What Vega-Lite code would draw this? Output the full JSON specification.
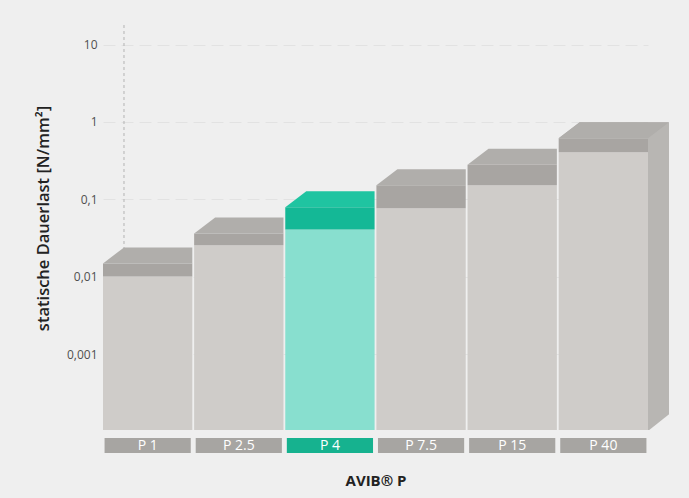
{
  "$schema": "https://vega.github.io/schema/vega-lite/v6.json",
  "width": 545,
  "height": 405,
  "autosize": {"type": "none"},
  "padding": {"left": 103, "top": 25, "right": 41, "bottom": 68},
  "background": "#efefef",
  "config": {"view": {"stroke": null}, "font": "Open Sans"},
  "data": {
    "values": [
      {"name": "P 1", "low": 0.0101, "high": 0.0149},
      {"name": "P 2.5", "low": 0.0255, "high": 0.0364},
      {"name": "P 4", "low": 0.041, "high": 0.079},
      {"name": "P 7.5", "low": 0.0767, "high": 0.152},
      {"name": "P 15", "low": 0.152, "high": 0.28},
      {"name": "P 40", "low": 0.406, "high": 0.617}
    ]
  },
  "layer": [
    {
      "transform": [{"filter": "datum.name === 'P 1'"}],
      "mark": {"type": "rule", "strokeDash": [3, 3], "color": "#b3b3b3", "strokeWidth": 1, "xOffset": -23.66},
      "encoding": {
        "x": {"datum": "P 1", "type": "nominal", "title": "AVIB® P",
              "scale": {"domain": ["P 1", "P 2.5", "P 4", "P 7.5", "P 15", "P 40"], "paddingInner": 0.02, "paddingOuter": 0}},
        "y": {"datum": 17.9, "type": "quantitative", "title": "statische Dauerlast [N/mm²]",
              "scale": {"type": "log", "domain": [0.000105, 17.9], "nice": false}},
        "y2": {"datum": 0.000105}
      }
    },
    {
      "mark": {"type": "bar"},
      "encoding": {
        "x": {"field": "name", "type": "nominal", "sort": null, "title": "AVIB® P",
              "axis": {"labels": false, "ticks": false, "domain": false, "grid": false, "titlePadding": 43,
                       "titleFontSize": 15, "titleFontWeight": "bold", "titleColor": "#222222", "titleFont": "Open Sans"}},
        "y": {"field": "low", "type": "quantitative", "title": "statische Dauerlast [N/mm²]",
              "axis": {"values": [0.001, 0.01, 0.1, 1, 10],
                       "labelExpr": "replace(format(datum.value, '~r'), '.', ',')",
                       "ticks": false, "domain": false, "labelPadding": 6, "labelFontSize": 12,
                       "labelColor": "#505050", "labelFont": "Open Sans",
                       "grid": true, "gridColor": "#e2e2e2", "gridDash": [12, 6],
                       "titleFontSize": 16.5, "titleFontWeight": 600, "titleColor": "#222222", "titleFont": "Open Sans",
                       "titleX": -60, "titleY": 193, "titleBaseline": "middle", "titleAngle": -90}},
        "y2": {"datum": 0.000105},
        "color": {"condition": {"test": "datum.name === 'P 4'", "value": "#88dfcf"}, "value": "#cfccc9"}
      }
    },
    {
      "mark": {"type": "bar"},
      "encoding": {
        "x": {"field": "name", "type": "nominal", "sort": null, "title": "AVIB® P"},
        "y": {"field": "high", "type": "quantitative", "title": "statische Dauerlast [N/mm²]"},
        "y2": {"field": "low"},
        "color": {"condition": {"test": "datum.name === 'P 4'", "value": "#14b896"}, "value": "#a8a5a2"}
      }
    },
    {
      "transform": [{"filter": "datum.name === 'P 40'"}],
      "mark": {"type": "bar", "width": 21, "xOffset": 55.16, "yOffset": -16, "color": "#b8b6b3"},
      "encoding": {
        "x": {"field": "name", "type": "nominal", "sort": null, "title": "AVIB® P"},
        "y": {"field": "high", "type": "quantitative", "title": "statische Dauerlast [N/mm²]"},
        "y2": {"datum": 0.000105}
      }
    },
    {
      "transform": [{"filter": "datum.name === 'P 40'"}],
      "mark": {"type": "point", "shape": "M 0.4466,0.01 L 0.6666,-0.165 L 0.6666,0.01 Z", "size": 40000,
               "filled": true, "opacity": 1, "strokeWidth": 0, "color": "#efefef"},
      "encoding": {
        "x": {"field": "name", "type": "nominal", "sort": null, "title": "AVIB® P"},
        "y": {"datum": 0.000105, "type": "quantitative", "title": "statische Dauerlast [N/mm²]"}
      }
    },
    {
      "mark": {"type": "point", "shape": "M -0.4466,0 L -0.2366,-0.16 L 0.4466,-0.16 L 0.4466,0 Z", "size": 40000,
               "filled": true, "opacity": 1, "strokeWidth": 0},
      "encoding": {
        "x": {"field": "name", "type": "nominal", "sort": null, "title": "AVIB® P"},
        "y": {"field": "high", "type": "quantitative", "title": "statische Dauerlast [N/mm²]"},
        "color": {"condition": {"test": "datum.name === 'P 4'", "value": "#1fc4a1"}, "value": "#b0aeab"}
      }
    },
    {
      "transform": [{"filter": "datum.name === 'P 40'"}],
      "mark": {"type": "point", "shape": "M -0.4466,0 L -0.2366,-0.16 L 0.6566,-0.16 L 0.4466,0 Z", "size": 40000,
               "filled": true, "opacity": 1, "strokeWidth": 0, "color": "#b0aeab"},
      "encoding": {
        "x": {"field": "name", "type": "nominal", "sort": null, "title": "AVIB® P"},
        "y": {"field": "high", "type": "quantitative", "title": "statische Dauerlast [N/mm²]"}
      }
    },
    {
      "mark": {"type": "bar", "width": {"band": 0.965}, "yOffset": 8, "y2Offset": 23},
      "encoding": {
        "x": {"field": "name", "type": "nominal", "sort": null, "title": "AVIB® P"},
        "y": {"datum": 0.000105, "type": "quantitative", "title": "statische Dauerlast [N/mm²]"},
        "y2": {"datum": 0.000105},
        "color": {"condition": {"test": "datum.name === 'P 4'", "value": "#16b28f"}, "value": "#a7a5a2"}
      }
    },
    {
      "mark": {"type": "text", "yOffset": 15.5, "baseline": "middle", "align": "center", "color": "#ffffff",
               "fontSize": 14, "font": "Open Sans"},
      "encoding": {
        "x": {"field": "name", "type": "nominal", "sort": null, "title": "AVIB® P"},
        "y": {"datum": 0.000105, "type": "quantitative", "title": "statische Dauerlast [N/mm²]"},
        "text": {"field": "name"}
      }
    }
  ]
}
